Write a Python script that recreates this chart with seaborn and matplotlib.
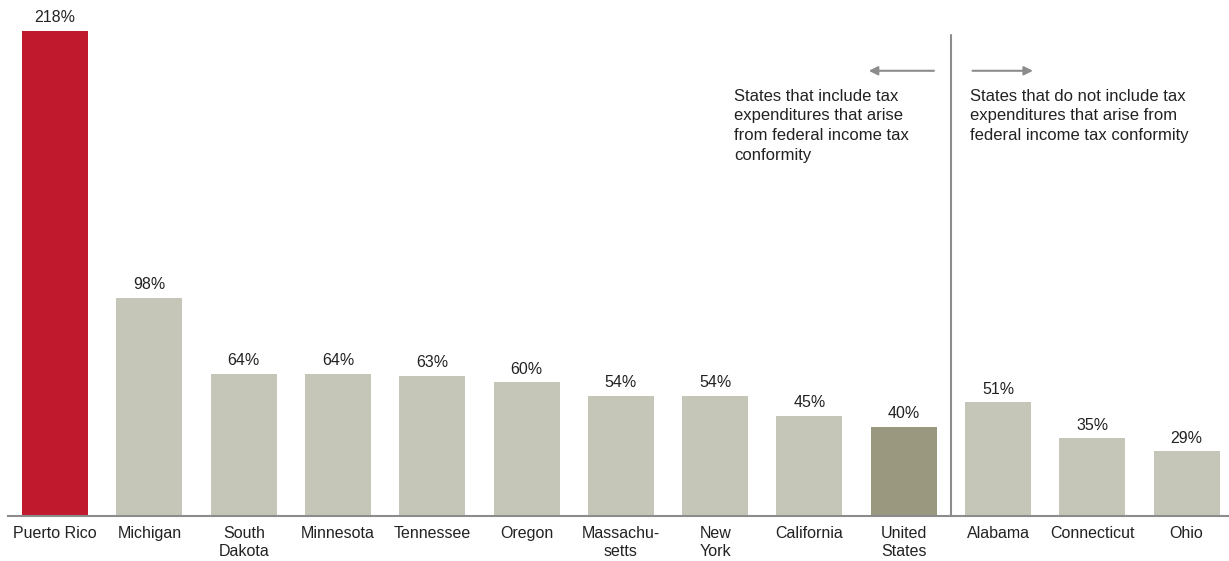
import pandas as pd
import matplotlib.pyplot as plt
import seaborn as sns

# Setup
sns.set_theme(style="white")
plt.rcParams["font.family"] = ["Liberation Sans", "DejaVu Sans"]

# Data
states = ["Puerto Rico", "Michigan", "South\nDakota", "Minnesota", "Tennessee", "Oregon",
          "Massachu-\nsetts", "New\nYork", "California", "United\nStates",
          "Alabama", "Connecticut", "Ohio"]
pct = [218, 98, 64, 64, 63, 60, 54, 54, 45, 40, 51, 35, 29]
group = ["pr", "state", "state", "state", "state", "state", "state", "state", "state", "us",
         "state", "state", "state"]
palette = {"pr": "#C0192D", "state": "#C6C6B8", "us": "#9A987F"}

df = pd.DataFrame({"State": states, "Pct": pct, "Group": group})

fig = plt.figure(figsize=(12.29, 5.61), dpi=100)
ax = fig.add_axes([8 / 1229, 45 / 561, 1 - 8 / 1229, 1 - 49 / 561])
sns.barplot(data=df, x="State", y="Pct", hue="Group", palette=palette, dodge=False,
            width=0.7, legend=False, ax=ax, saturation=1, linewidth=0)

for i, v in enumerate(pct):
    ax.text(i, v + 2.5, f"{v}%", ha="center", va="bottom", fontsize=11.5, color="#222222")

ax.set_ylim(0, 230)
ax.set_xlim(-0.5, 12.45)
ax.set_xlabel("")
ax.set_ylabel("")
ax.set_yticks([])
ax.tick_params(axis="x", length=0, labelsize=11.5, colors="#222222", pad=7)
for lbl in ax.get_xticklabels():
    lbl.set_linespacing(1.3)
for s in ["top", "right", "left"]:
    ax.spines[s].set_visible(False)
ax.spines["bottom"].set_color("#8c8c8c")
ax.spines["bottom"].set_linewidth(1.5)

# divider and annotations
ax.plot([9.5, 9.5], [0, 216], color="#8c8c8c", lw=1.5)
ax.annotate("", xy=(8.6, 200), xytext=(9.35, 200),
            arrowprops=dict(arrowstyle="-|>", color="#8c8c8c", lw=1.5, mutation_scale=13))
ax.annotate("", xy=(10.4, 200), xytext=(9.7, 200),
            arrowprops=dict(arrowstyle="-|>", color="#8c8c8c", lw=1.5, mutation_scale=13))
ax.text(7.2, 192, "States that include tax\nexpenditures that arise\nfrom federal income tax\nconformity",
        ha="left", va="top", fontsize=12, color="#222222", linespacing=1.4)
ax.text(9.7, 192, "States that do not include tax\nexpenditures that arise from\nfederal income tax conformity",
        ha="left", va="top", fontsize=12, color="#222222", linespacing=1.4)

plt.savefig("out.png", dpi=100)
plt.close()
